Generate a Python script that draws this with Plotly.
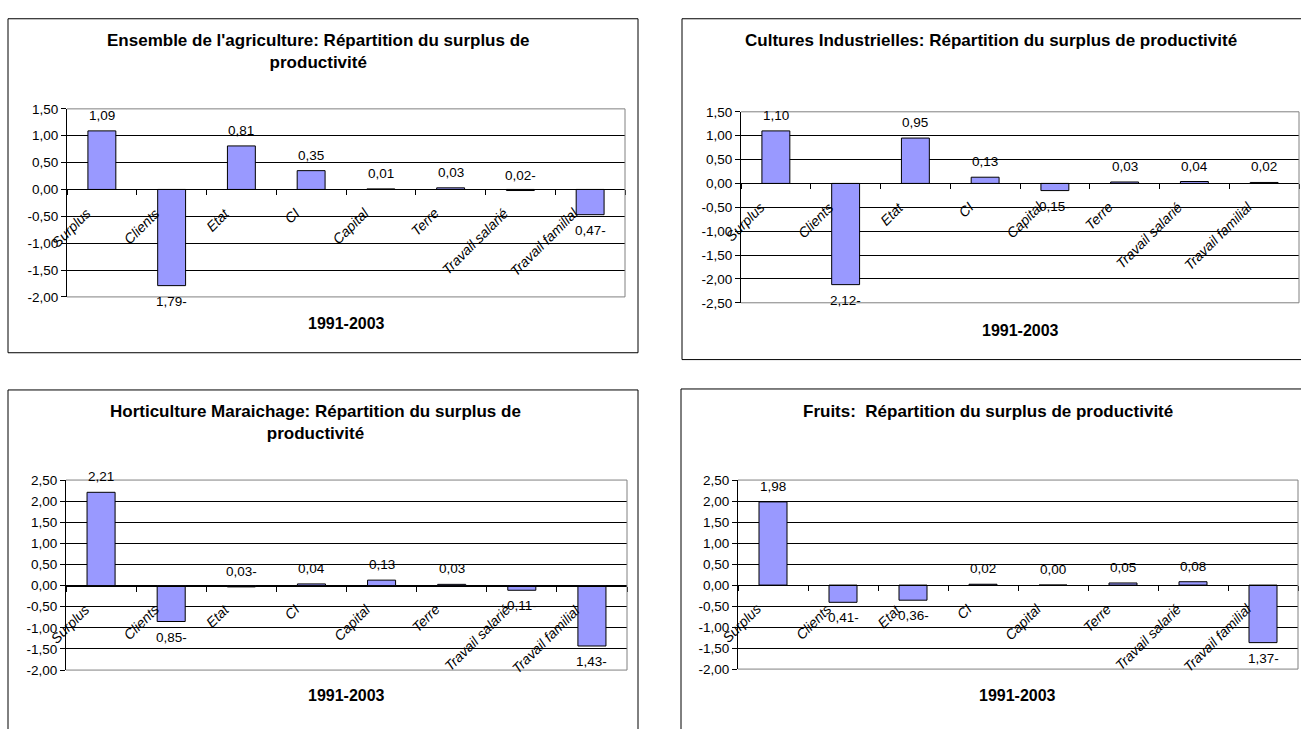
import plotly.graph_objects as go

# ---------------- data ----------------
categories = ["Surplus", "Clients", "Etat", "CI", "Capital", "Terre",
              "Travail salarié", "Travail familial"]

title_ensemble = "Ensemble de l'agriculture: Répartition du surplus de<br>productivité"
title_cultures = "Cultures Industrielles: Répartition du surplus de productivité"
title_horti = "Horticulture Maraichage: Répartition du surplus de<br>productivité"
title_fruits = "Fruits:  Répartition du surplus de productivité"
period_label = "1991-2003"

ensemble = [1.09, -1.79, 0.81, 0.35, 0.01, 0.03, -0.02, -0.47]
cultures = [1.10, -2.12, 0.95, 0.13, -0.15, 0.03, 0.04, 0.02]
horticulture = [2.21, -0.85, -0.03, 0.04, 0.13, 0.03, -0.11, -1.43]
fruits = [1.98, -0.41, -0.36, 0.02, 0.00, 0.05, 0.08, -1.37]

ticks_ensemble = [1.5, 1.0, 0.5, 0.0, -0.5, -1.0, -1.5, -2.0]
ticks_cultures = [1.5, 1.0, 0.5, 0.0, -0.5, -1.0, -1.5, -2.0, -2.5]
ticks_horti = [2.5, 2.0, 1.5, 1.0, 0.5, 0.0, -0.5, -1.0, -1.5, -2.0]
ticks_fruits = [2.5, 2.0, 1.5, 1.0, 0.5, 0.0, -0.5, -1.0, -1.5, -2.0]

# ---------------- layout helpers ----------------
W, H = 1301, 729
FONT = "Liberation Sans, Arial, sans-serif"
BAR_COLOR = "#9999FF"
TICK_SIZE = 13.5
VALUE_SIZE = 13.5
CAT_SIZE = 14
TITLE_SIZE = 17
PERIOD_SIZE = 16


def axis_fmt(v):
    return f"{v:.2f}".replace(".", ",")


def label_fmt(v):
    s = f"{abs(v):.2f}".replace(".", ",")
    return s + ("-" if v < 0 else "")


def px_x(x):
    return x / W


def px_y(y):
    return 1 - y / H


panels = [
    dict(values=ensemble, title=title_ensemble, ticks=ticks_ensemble,
         plot=(67, 625, 104, 296), box=(8, 638, 12, 353),
         title_pos=(318, 45.5), xlab_pos=(346, 323)),
    dict(values=cultures, title=title_cultures, ticks=ticks_cultures,
         plot=(741, 1299, 107, 302), box=(682, 1340, 12, 360),
         title_pos=(991, 34), xlab_pos=(1020, 330)),
    dict(values=horticulture, title=title_horti, ticks=ticks_horti,
         plot=(66, 627, 483, 677), box=(8, 638, 391, 760),
         title_pos=(315, 424), xlab_pos=(346, 703)),
    dict(values=fruits, title=title_fruits, ticks=ticks_fruits,
         plot=(738, 1298, 483, 676), box=(681, 1340, 390, 760),
         title_pos=(988, 413), xlab_pos=(1017, 703)),
]

fig = go.Figure()
shapes = []
annotations = []
layout_axes = {}

for i, p in enumerate(panels, start=1):
    xname = "x" if i == 1 else f"x{i}"
    yname = "y" if i == 1 else f"y{i}"
    xkey = "xaxis" if i == 1 else f"xaxis{i}"
    ykey = "yaxis" if i == 1 else f"yaxis{i}"

    x0, x1, yt, yb = p["plot"]
    xdom = [px_x(x0), px_x(x1)]
    ydom = [px_y(yb), px_y(yt)]
    rmin, rmax = min(p["ticks"]), max(p["ticks"])
    zero_pos = ydom[0] + (0 - rmin) / (rmax - rmin) * (ydom[1] - ydom[0])

    fig.add_trace(go.Bar(
        x=categories, y=p["values"], xaxis=xname, yaxis=yname,
        marker=dict(color=BAR_COLOR, line=dict(color="black", width=1)),
        width=0.4, showlegend=False, hoverinfo="x+y",
    ))

    layout_axes[xkey] = dict(
        domain=xdom, anchor="free", position=zero_pos, type="category",
        range=[-0.5, len(categories) - 0.5], showline=True, linecolor="black",
        linewidth=1, ticks="outside", ticklen=5, tickcolor="black",
        tickson="boundaries", showticklabels=False, showgrid=False,
        zeroline=False, fixedrange=True,
    )
    layout_axes[ykey] = dict(
        domain=ydom, anchor=xname, range=[rmin, rmax],
        tickvals=p["ticks"], ticktext=[axis_fmt(t) for t in p["ticks"]],
        showgrid=True, gridcolor="black", gridwidth=1, zeroline=False,
        showline=True, linecolor="black", linewidth=1, ticks="outside",
        ticklen=5, tickcolor="black", fixedrange=True,
        tickfont=dict(family=FONT, size=TICK_SIZE, color="black"),
    )

    # plot-area frame (gray) top, right, bottom
    xd, yd = f"{xname} domain", f"{yname} domain"
    for (a, b, c, d) in [(0, 1, 1, 1), (1, 1, 0, 1), (0, 1, 0, 0)]:
        shapes.append(dict(type="line", xref=xd, yref=yd, x0=a, x1=b, y0=c, y1=d,
                           line=dict(color="#808080", width=1), layer="above"))

    # chart box
    bx0, bx1, by0, by1 = p["box"]
    shapes.append(dict(type="rect", xref="paper", yref="paper",
                       x0=px_x(bx0), x1=px_x(bx1), y0=px_y(by1), y1=px_y(by0),
                       line=dict(color="black", width=1), layer="below"))

    # title
    tx, ty = p["title_pos"]
    annotations.append(dict(text=f"<b>{p['title']}</b>", xref="paper", yref="paper",
                            x=px_x(tx), y=px_y(ty), xanchor="center", yanchor="middle",
                            showarrow=False,
                            font=dict(family=FONT, size=TITLE_SIZE, color="black")))
    # x-axis title
    lx, ly = p["xlab_pos"]
    annotations.append(dict(text=f"<b>{period_label}</b>", xref="paper", yref="paper",
                            x=px_x(lx), y=px_y(ly), xanchor="center", yanchor="middle",
                            showarrow=False,
                            font=dict(family=FONT, size=PERIOD_SIZE, color="black")))

    # value labels
    for c, v in zip(categories, p["values"]):
        above = v > -0.05
        annotations.append(dict(
            text=label_fmt(v), xref=xname, yref=yname, x=c, y=v,
            xanchor="center", yanchor="bottom" if above else "top",
            yshift=6 if above else -6, showarrow=False,
            font=dict(family=FONT, size=VALUE_SIZE, color="black")))

    # category labels hanging from the zero line
    for c in categories:
        annotations.append(dict(
            text=f"<i>{c}</i>", xref=xname, yref=yname, x=c, y=0,
            xanchor="right", yanchor="top", textangle=-45,
            xshift=-6, yshift=-13, showarrow=False,
            font=dict(family=FONT, size=CAT_SIZE, color="black")))

fig.update_layout(
    width=W, height=H, margin=dict(l=0, r=0, t=0, b=0, pad=0),
    paper_bgcolor="white", plot_bgcolor="white",
    shapes=shapes, annotations=annotations, showlegend=False,
    bargap=0.6, font=dict(family=FONT, color="black"),
    **layout_axes,
)

fig.write_html("out.html", config=dict(displayModeBar=False))
